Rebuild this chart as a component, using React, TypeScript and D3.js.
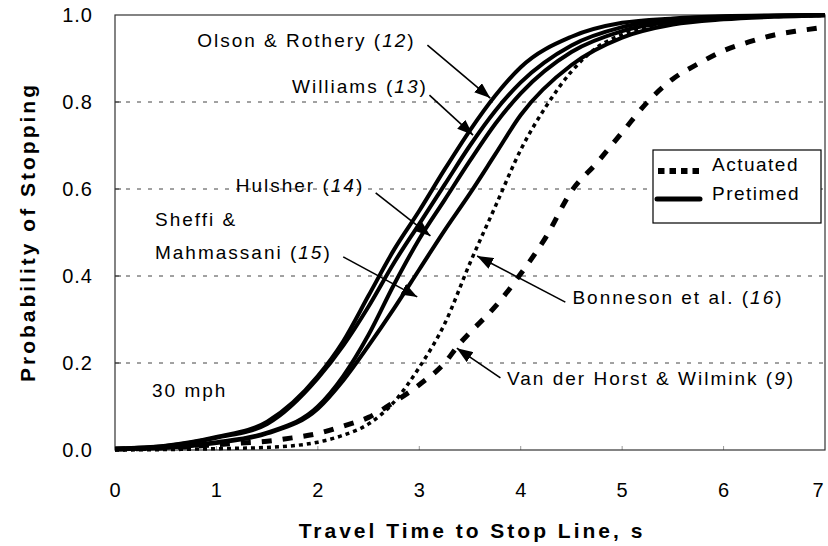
import React, { useEffect, useRef } from "react";
import * as d3 from "d3";

const WIDTH = 828;
const HEIGHT = 546;
const FONT = "'Liberation Sans', Arial, Helvetica, sans-serif";

const X_TICKS = [0, 1, 2, 3, 4, 5, 6, 7];
const Y_TICKS = [0, 0.2, 0.4, 0.6, 0.8, 1.0];
const GRID_TICKS = [0.2, 0.4, 0.6, 0.8];

// pretimed models, travel time in s
const PRETIMED_TIME = [0, 0.5, 1, 1.5, 2, 2.25, 2.5, 2.75, 3, 3.25, 3.5, 3.75, 4, 4.5, 5, 5.5, 6, 6.5, 7];
const OLSON = [0.003, 0.01, 0.03, 0.065, 0.17, 0.25, 0.355, 0.46, 0.55, 0.645, 0.735, 0.815, 0.88, 0.95, 0.982, 0.992, 0.997, 0.999, 1.0];
const WILLIAMS = [0.003, 0.009, 0.028, 0.06, 0.165, 0.24, 0.33, 0.43, 0.52, 0.61, 0.7, 0.78, 0.845, 0.93, 0.972, 0.99, 0.996, 0.998, 1.0];
const HULSHER = [0.002, 0.006, 0.018, 0.04, 0.1, 0.17, 0.265, 0.38, 0.485, 0.575, 0.665, 0.75, 0.82, 0.915, 0.963, 0.985, 0.994, 0.998, 1.0];
const SHEFFI = [0.002, 0.005, 0.016, 0.038, 0.095, 0.16, 0.24, 0.325, 0.415, 0.505, 0.59, 0.68, 0.77, 0.885, 0.948, 0.978, 0.99, 0.996, 0.999];

// actuated models
const BONNESON_TIME = [0, 0.5, 1, 1.5, 2, 2.25, 2.5, 2.75, 3, 3.25, 3.5, 3.75, 4, 4.25, 4.5, 4.75, 5, 5.5, 6, 6.5, 7];
const BONNESON = [0.0, 0.001, 0.003, 0.006, 0.018, 0.034, 0.06, 0.11, 0.19, 0.29, 0.43, 0.56, 0.69, 0.79, 0.87, 0.925, 0.955, 0.982, 0.993, 0.997, 0.999];
const VDH_TIME = [0, 0.5, 1, 1.25, 1.5, 1.75, 2, 2.25, 2.5, 2.75, 3, 3.25, 3.4, 3.5, 3.75, 4, 4.25, 4.5, 4.75, 5, 5.25, 5.5, 5.75, 6, 6.25, 6.5, 6.75, 7];
const VDH = [0.002, 0.005, 0.012, 0.016, 0.02, 0.028, 0.038, 0.055, 0.075, 0.11, 0.15, 0.2, 0.245, 0.27, 0.33, 0.405, 0.49, 0.595, 0.66, 0.73, 0.8, 0.853, 0.888, 0.918, 0.938, 0.954, 0.964, 0.972];

// labels: odd parts are italic (reference numbers)
const LABELS = [
  { t: 0.81, p: 0.926, parts: ["Olson & Rothery (", "12", ")"] },
  { t: 1.745, p: 0.821, parts: ["Williams (", "13", ")"] },
  { t: 1.19, p: 0.593, parts: ["Hulsher (", "14", ")"] },
  { t: 0.394, p: 0.515, parts: ["Sheffi &"] },
  { t: 0.394, p: 0.439, parts: ["Mahmassani (", "15", ")"] },
  { t: 0.365, p: 0.122, parts: ["30 mph"] },
  { t: 4.51, p: 0.336, parts: ["Bonneson et al. (", "16", ")"] },
  { t: 3.865, p: 0.149, parts: ["Van der Horst & Wilmink (", "9", ")"] },
];

const ARROWS = [
  { from: [3.08, 0.931], to: [3.7, 0.809] },
  { from: [3.1, 0.816], to: [3.53, 0.724] },
  { from: [2.57, 0.591], to: [3.11, 0.492] },
  { from: [2.25, 0.444], to: [2.98, 0.352] },
  { from: [4.44, 0.34], to: [3.57, 0.446] },
  { from: [3.8, 0.166], to: [3.37, 0.234] },
];

export default function App() {
  const ref = useRef(null);

  useEffect(() => {
    const svg = d3.select(ref.current);
    svg.selectAll("*").remove();

    const x = d3.scaleLinear().domain([0, 7]).range([115, 825]);
    const y = d3.scaleLinear().domain([0, 1]).range([450, 15]);

    svg.append("rect").attr("width", WIDTH).attr("height", HEIGHT).attr("fill", "#fff");

    const defs = svg.append("defs");
    defs
      .append("marker")
      .attr("id", "head")
      .attr("viewBox", "0 0 16 12")
      .attr("refX", 16)
      .attr("refY", 6)
      .attr("markerWidth", 16)
      .attr("markerHeight", 12)
      .attr("markerUnits", "userSpaceOnUse")
      .attr("orient", "auto")
      .append("path")
      .attr("d", "M0,0L16,6L0,12Z")
      .attr("fill", "#000");

    // gridlines
    svg
      .append("g")
      .selectAll("line")
      .data(GRID_TICKS)
      .join("line")
      .attr("x1", x(0))
      .attr("x2", x(7))
      .attr("y1", (d) => y(d))
      .attr("y2", (d) => y(d))
      .attr("stroke", "#444")
      .attr("stroke-width", 1)
      .attr("stroke-dasharray", "4,7");

    // small inner ticks
    svg
      .append("g")
      .selectAll("line")
      .data(GRID_TICKS)
      .join("line")
      .attr("x1", x(0))
      .attr("x2", x(0) + 6)
      .attr("y1", (d) => y(d))
      .attr("y2", (d) => y(d))
      .attr("stroke", "#333");
    svg
      .append("g")
      .selectAll("line")
      .data(X_TICKS.slice(1, -1))
      .join("line")
      .attr("x1", (d) => x(d))
      .attr("x2", (d) => x(d))
      .attr("y1", y(0))
      .attr("y2", y(0) - 4)
      .attr("stroke", "#999");

    // frame
    svg
      .append("rect")
      .attr("x", x(0))
      .attr("y", y(1))
      .attr("width", x(7) - x(0))
      .attr("height", y(0) - y(1))
      .attr("fill", "none")
      .attr("stroke", "#333")
      .attr("stroke-width", 1.2);

    // tick labels
    svg
      .append("g")
      .selectAll("text")
      .data(Y_TICKS)
      .join("text")
      .attr("x", 93)
      .attr("y", (d) => y(d))
      .attr("dy", "0.36em")
      .attr("text-anchor", "end")
      .attr("font-family", FONT)
      .attr("font-size", 20)
      .attr("letter-spacing", 1)
      .text((d) => d3.format(".1f")(d));

    svg
      .append("g")
      .selectAll("text")
      .data(X_TICKS)
      .join("text")
      .attr("x", (d) => Math.min(x(d), WIDTH - 10))
      .attr("y", 497)
      .attr("text-anchor", "middle")
      .attr("font-family", FONT)
      .attr("font-size", 20)
      .text((d) => d);

    // axis titles
    svg
      .append("text")
      .attr("x", 472)
      .attr("y", 538)
      .attr("text-anchor", "middle")
      .attr("font-family", FONT)
      .attr("font-size", 21)
      .attr("font-weight", "bold")
      .attr("letter-spacing", 3)
      .text("Travel Time to Stop Line, s");

    svg
      .append("text")
      .attr("transform", "translate(35,232) rotate(-90)")
      .attr("text-anchor", "middle")
      .attr("font-family", FONT)
      .attr("font-size", 21)
      .attr("font-weight", "bold")
      .attr("letter-spacing", 3)
      .text("Probability of Stopping");

    // curves
    const line = d3
      .line()
      .x((d) => x(d[0]))
      .y((d) => y(d[1]))
      .curve(d3.curveMonotoneX);

    const zip = (ts, ps) => ts.map((t, i) => [t, ps[i]]);

    const series = [
      { pts: zip(VDH_TIME, VDH), width: 5, dash: "10,11" },
      { pts: zip(BONNESON_TIME, BONNESON), width: 3.5, dash: "4,4" },
      { pts: zip(PRETIMED_TIME, SHEFFI), width: 4, dash: null },
      { pts: zip(PRETIMED_TIME, HULSHER), width: 4, dash: null },
      { pts: zip(PRETIMED_TIME, WILLIAMS), width: 4, dash: null },
      { pts: zip(PRETIMED_TIME, OLSON), width: 4, dash: null },
    ];

    svg
      .append("g")
      .selectAll("path")
      .data(series)
      .join("path")
      .attr("d", (d) => line(d.pts))
      .attr("fill", "none")
      .attr("stroke", "#000")
      .attr("stroke-width", (d) => d.width)
      .attr("stroke-dasharray", (d) => d.dash);

    // annotation arrows
    svg
      .append("g")
      .selectAll("line")
      .data(ARROWS)
      .join("line")
      .attr("x1", (d) => x(d.from[0]))
      .attr("y1", (d) => y(d.from[1]))
      .attr("x2", (d) => x(d.to[0]))
      .attr("y2", (d) => y(d.to[1]))
      .attr("stroke", "#000")
      .attr("stroke-width", 1.6)
      .attr("marker-end", "url(#head)");

    // annotation labels
    const lab = svg
      .append("g")
      .selectAll("text")
      .data(LABELS)
      .join("text")
      .attr("x", (d) => x(d.t))
      .attr("y", (d) => y(d.p))
      .attr("font-family", FONT)
      .attr("font-size", 19)
      .attr("letter-spacing", 2);
    lab
      .selectAll("tspan")
      .data((d) => d.parts)
      .join("tspan")
      .attr("font-style", (d, i) => (i % 2 === 1 ? "italic" : "normal"))
      .text((d) => d);

    // legend
    const lg = svg.append("g");
    lg.append("rect")
      .attr("x", 653)
      .attr("y", 150)
      .attr("width", 168)
      .attr("height", 73)
      .attr("fill", "#fff")
      .attr("stroke", "#000")
      .attr("stroke-width", 1.2);
    lg.append("line")
      .attr("x1", 658)
      .attr("x2", 702)
      .attr("y1", 171)
      .attr("y2", 171)
      .attr("stroke", "#000")
      .attr("stroke-width", 6)
      .attr("stroke-dasharray", "6.5,5");
    lg.append("line")
      .attr("x1", 657)
      .attr("x2", 700)
      .attr("y1", 199)
      .attr("y2", 199)
      .attr("stroke", "#000")
      .attr("stroke-width", 5)
      .attr("stroke-linecap", "round");
    lg.selectAll("text.lab")
      .data(["Actuated", "Pretimed"])
      .join("text")
      .attr("x", 712)
      .attr("y", (d, i) => 171 + i * 29)
      .attr("font-family", FONT)
      .attr("font-size", 19)
      .attr("letter-spacing", 1.5)
      .text((d) => d);
  }, []);

  return (
    <svg
      ref={ref}
      width={WIDTH}
      height={HEIGHT}
      style={{ position: "absolute", left: 0, top: 0 }}
    />
  );
}
